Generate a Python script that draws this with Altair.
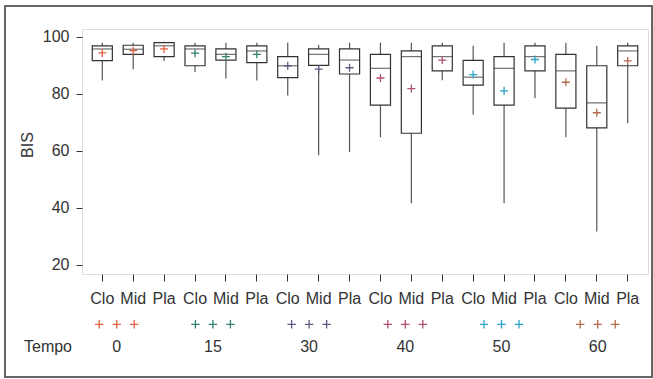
import altair as alt
import pandas as pd

tempo = [0, 15, 30, 40, 50, 60]
cats = ["Clo", "Mid", "Pla"]
colors = ["#e0603e", "#2f8070", "#5e5a84", "#b0506e", "#2ca2c8", "#b36a4c"]

lows  = [84.6, 88.6, 91.5, 87.6, 85.3, 84.6, 79.4, 58.4, 59.5, 64.7, 41.5, 84.7, 72.6, 41.5, 78.4, 64.7, 31.6, 69.6]
q1s   = [91.6, 93.8, 93.0, 89.8, 91.8, 90.9, 85.6, 89.9, 86.9, 76.0, 66.1, 88.0, 83.0, 76.0, 88.0, 74.9, 68.0, 89.8]
meds  = [95.7, 95.6, 96.8, 95.7, 93.8, 95.0, 89.8, 93.8, 91.8, 88.9, 93.0, 93.0, 85.8, 88.9, 93.0, 88.0, 76.8, 95.0]
q3s   = [96.8, 97.0, 97.9, 96.8, 95.7, 96.8, 93.0, 95.7, 95.7, 93.8, 95.0, 96.8, 91.7, 93.0, 96.8, 93.8, 89.8, 96.8]
highs = [97.9, 97.9, 98.2, 97.9, 97.9, 97.9, 97.9, 97.1, 97.9, 97.9, 97.9, 97.9, 96.8, 97.9, 97.9, 97.9, 96.8, 97.9]
means = [94.3, 95.1, 95.7, 94.2, 93.0, 93.8, 89.8, 88.6, 89.1, 85.5, 81.8, 91.8, 86.7, 81.0, 92.0, 84.0, 73.3, 91.5]

rows = []
i = 0
for t in tempo:
    for c in cats:
        rows.append(dict(key=f"{t} {c}", tempo=t, cat=c, lo=lows[i], q1=q1s[i],
                         med=meds[i], q3=q3s[i], hi=highs[i], mean=means[i]))
        i += 1
df = pd.DataFrame(rows)
order = list(df["key"])

FONT = "Liberation Sans"
TXT = "#333333"
FS = 16

xenc = alt.X("key:O", sort=order, title=None,
             scale=alt.Scale(type="band", paddingInner=0.35, paddingOuter=0.332),
             axis=alt.Axis(labelExpr="split(datum.label, ' ')[1]", labelAngle=0,
                           labelFontSize=FS, labelFont=FONT, labelColor=TXT,
                           tickColor=TXT, tickSize=7, labelPadding=9,
                           domain=False, grid=False))
yscale = alt.Scale(domain=[16.7, 102.7], nice=False, zero=False)
yenc = alt.Y("lo:Q", scale=yscale,
             axis=alt.Axis(values=[20, 40, 60, 80, 100], title="BIS", titleFont=FONT,
                           titleFontSize=FS, titleFontWeight="normal", titleColor=TXT,
                           titleX=-54.5, titleY=115.5, titleBaseline="middle",
                           labelFontSize=FS, labelFont=FONT,
                           labelColor=TXT, tickColor=TXT, tickSize=6, labelPadding=7,
                           domain=False, grid=False))

cscale = alt.Scale(domain=tempo, range=colors)

base = alt.Chart(df)
whisk = base.mark_rule(color="#555555", strokeWidth=1.2).encode(x=xenc, y=yenc, y2="hi:Q")
box = base.mark_bar(fill="white", stroke="#333333", strokeWidth=1.2).encode(
    x=xenc, y=alt.Y("q1:Q", scale=yscale), y2="q3:Q")
medl = base.mark_tick(orient="horizontal", size=20, thickness=1.2, color="#333333").encode(
    x=xenc, y=alt.Y("med:Q", scale=yscale))
meanp = base.mark_point(shape="M-1,0L1,0M0,-1L0,1", filled=False, size=64, strokeWidth=1.3,
                        opacity=1).encode(
    x=xenc, y=alt.Y("mean:Q", scale=yscale),
    color=alt.Color("tempo:N", scale=cscale, legend=None))

leg = pd.DataFrame({"gi": list(range(len(tempo))), "tempo": tempo,
                    "label": [str(t) for t in tempo]})
lx = alt.X("gi:Q", scale=alt.Scale(domain=[-0.361, 5.523], nice=False, zero=False), axis=None)
lbase = alt.Chart(leg)
legmarks = []
for dx in (-17.5, 0, 17.5):
    legmarks.append(lbase.mark_point(shape="M-1,0L1,0M0,-1L0,1", filled=False, size=70,
                                     strokeWidth=1.3, opacity=1).encode(
        x=lx, xOffset=alt.value(dx), y=alt.value(295.3),
        color=alt.Color("tempo:N", scale=cscale, legend=None)))
legtext = lbase.mark_text(font=FONT, fontSize=FS, color=TXT, baseline="middle").encode(
    x=lx, y=alt.value(317.7), text="label:N")
tempolab = lbase.mark_text(font=FONT, fontSize=FS, color=TXT, baseline="middle",
                           text="Tempo").encode(x=alt.value(-34), y=alt.value(317.7)).transform_filter("datum.gi == 0")
frame = lbase.mark_rect(fill=None, stroke="#666666", strokeWidth=2).encode(
    x=alt.value(-77), x2=alt.value(570), y=alt.value(-23), y2=alt.value(348)
).transform_filter("datum.gi == 0")

main = alt.layer(whisk, box, medl, meanp)
legend_layer = alt.layer(*legmarks, legtext, tempolab, frame)

chart = alt.layer(main, legend_layer).resolve_scale(x="independent").properties(
    width=566, height=245,
    autosize=alt.AutoSizeParams(type="none"),
    padding={"left": 82, "top": 29, "right": 5, "bottom": 105},
).configure_view(stroke="#333333", strokeWidth=1.2).configure(background="white")

chart.save("out.html", embed_options={"renderer": "svg", "actions": False})
